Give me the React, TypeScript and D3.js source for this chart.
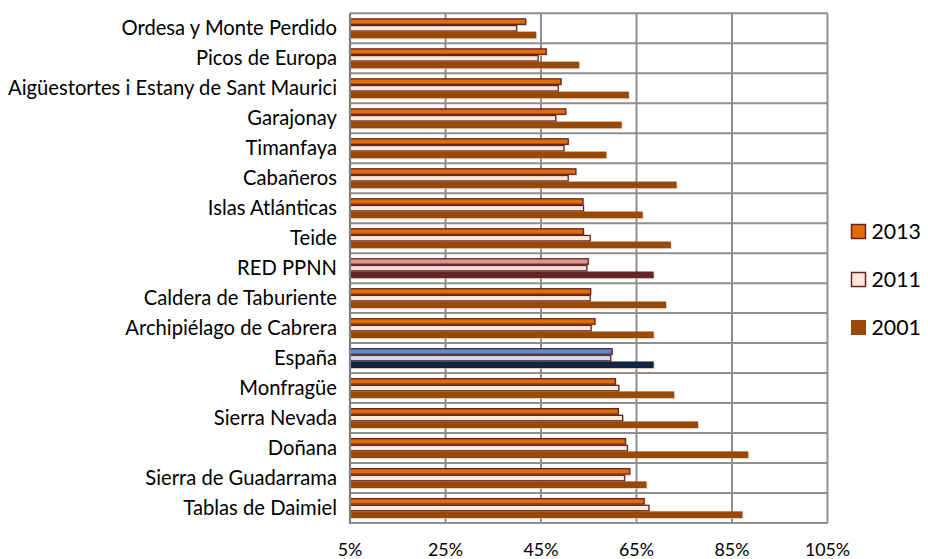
import React from "react";
import * as d3 from "d3";

const categories = [
  "Ordesa y Monte Perdido",
  "Picos de Europa",
  "Aigüestortes i Estany de Sant Maurici",
  "Garajonay",
  "Timanfaya",
  "Cabañeros",
  "Islas Atlánticas",
  "Teide",
  "RED PPNN",
  "Caldera de Taburiente",
  "Archipiélago de Cabrera",
  "España",
  "Monfragüe",
  "Sierra Nevada",
  "Doñana",
  "Sierra de Guadarrama",
  "Tablas de Daimiel",
];
const series = ["2013", "2011", "2001"];
const values2013 = [41.8, 46.1, 49.2, 50.2, 50.7, 52.3, 53.8, 53.9, 54.9, 55.4, 56.3, 59.9, 60.6, 61.2, 62.7, 63.6, 66.6];
const values2011 = [39.9, 44.4, 48.6, 48.1, 49.8, 50.7, 53.9, 55.3, 54.6, 55.3, 55.5, 59.6, 61.3, 62.1, 63.1, 62.5, 67.6];
const values2001 = [44.0, 53.0, 63.4, 61.9, 58.7, 73.4, 66.3, 72.2, 68.6, 71.2, 68.6, 68.6, 72.9, 77.9, 88.4, 67.1, 87.2];
const xTicks = [5, 25, 45, 65, 85, 105];

const palette: Record<string, string[]> = {
  default: ["#E26B0A", "#FDE9D9", "#984807"],
  "RED PPNN": ["#D99694", "#F2DCDB", "#632523"],
  "España": ["#558ED5", "#C6D9F1", "#10253F"],
};
const edge = "#632523";

export default function App() {
  const W = 928, H = 559;
  const x = d3.scaleLinear().domain([5, 105]).range([350, 827.5]);
  const y = d3.scaleBand<string>().domain(categories).range([13.3, 523]).padding(0);
  const inner = d3.scaleBand<string>().domain(series).range([5, 25]).padding(0);
  const data = [values2013, values2011, values2001];
  const font = "Lato, 'Open Sans', sans-serif";
  const grid = "#8E8E8E";

  return (
    <svg width={W} height={H} style={{ position: "absolute", left: 0, top: 0, background: "#fff" }}>
      <rect x={0} y={0} width={W} height={H} fill="#fff" />
      {xTicks.map((t) => (
        <line key={"v" + t} x1={x(t)} x2={x(t)} y1={13.3} y2={523} stroke={grid} strokeWidth={2} />
      ))}
      {categories.map((c) => (
        <line key={"h" + c} x1={350} x2={827.5} y1={y(c)!} y2={y(c)!} stroke={grid} strokeWidth={2} />
      ))}
      <line x1={350} x2={827.5} y1={523} y2={523} stroke={grid} strokeWidth={2} />
      {categories.map((c, i) => {
        const cols = palette[c] || palette.default;
        return (
          <g key={"b" + c}>
            {series.map((s, k) => {
              const v = data[k][i];
              const by = y(c)! + inner(s)!;
              const bh = inner.bandwidth();
              const w = x(v) - x(5);
              const stroked = k < 2;
              return (
                <g key={s}>
                  <rect x={x(5) + 1} y={by + 1} width={w} height={bh} fill="#E9C3A5" opacity={0.6} />
                  {stroked ? (
                    <rect x={x(5)} y={by + 0.6} width={w} height={bh - 1.2} fill={cols[k]} stroke={edge} strokeWidth={1.3} />
                  ) : (
                    <rect x={x(5)} y={by} width={w} height={bh} fill={cols[k]} />
                  )}
                </g>
              );
            })}
          </g>
        );
      })}
      <line x1={350} x2={350} y1={13.3} y2={524} stroke="#7F7F7F" strokeWidth={2.2} />
      {categories.map((c) => (
        <text key={"l" + c} x={337} y={y(c)! + y.bandwidth() / 2} dy="0.35em" textAnchor="end" fontFamily={font} fontSize={20.2} fill="#000">
          {c}
        </text>
      ))}
      {xTicks.map((t) => (
        <text key={"t" + t} x={x(t)} y={555.5} textAnchor="middle" fontFamily={font} fontSize={17.8} fill="#000">
          {t + "%"}
        </text>
      ))}
      {series.map((s, k) => {
        const cy = 231.5 + k * 48;
        const cols = palette.default;
        return (
          <g key={"lg" + s}>
            {k < 2 ? (
              <rect x={851.5} y={cy - 7} width={14} height={14} fill={cols[k]} stroke={edge} strokeWidth={1.5} />
            ) : (
              <rect x={851} y={cy - 7.5} width={15} height={15} fill={cols[k]} />
            )}
            <text x={871.5} y={cy} dy="0.36em" fontFamily={font} fontSize={21.3} fill="#000">
              {s}
            </text>
          </g>
        );
      })}
    </svg>
  );
}
